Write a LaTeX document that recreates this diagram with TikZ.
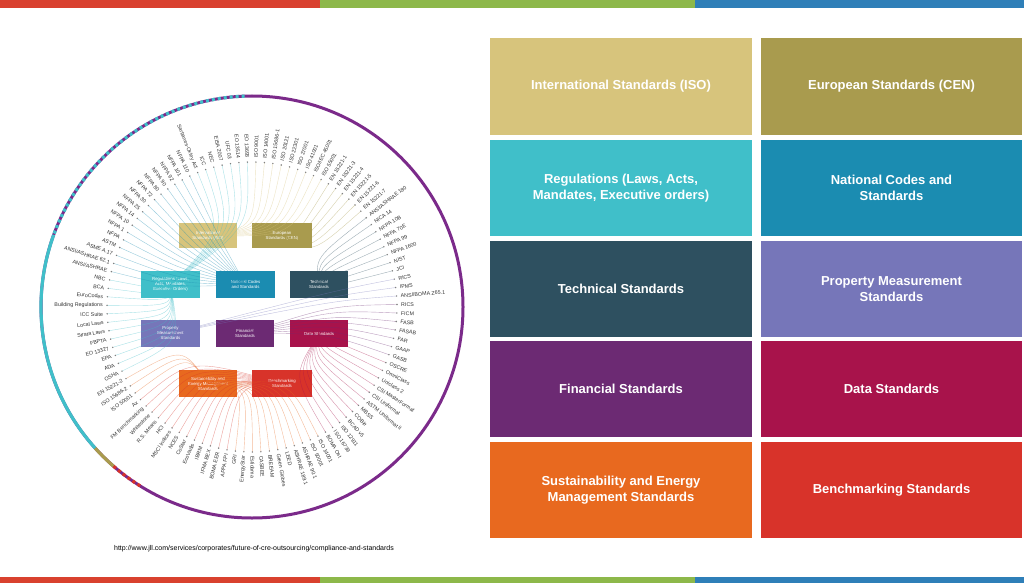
\documentclass[tikz,border=0pt]{standalone}
\usepackage{fontspec}
\setmainfont{Liberation Sans}
\usetikzlibrary{calc}
\definecolor{cISO}{HTML}{D7C47C}
\definecolor{cCEN}{HTML}{A99B4E}
\definecolor{cREG}{HTML}{40BFC9}
\definecolor{cNAT}{HTML}{1B8CB1}
\definecolor{cTEC}{HTML}{2E5060}
\definecolor{cPRO}{HTML}{7676B9}
\definecolor{cFIN}{HTML}{6C2A73}
\definecolor{cDAT}{HTML}{A8134B}
\definecolor{cSUS}{HTML}{E8691F}
\definecolor{cBEN}{HTML}{D8332A}
\definecolor{bR}{HTML}{D9412F}
\definecolor{bG}{HTML}{8DB84A}
\definecolor{bB}{HTML}{2F7FB8}
\definecolor{ring}{HTML}{7B2A8A}
\newcount\lblidx
\newcommand\grp[3]{%
 \foreach \lab in {#3}{%
  \pgfmathsetmacro\a{112-\the\lblidx*3.364}%
  \pgfmathtruncatemacro\rt{cos(\a)>0}%
  \coordinate (d\the\lblidx) at ($(C)+(\a:145)$);
  \ifnum\rt=1 \node[lbl,anchor=west,rotate=\a] at ($(C)+(\a:149)$) {\lab};%
  \else \node[lbl,anchor=east,rotate=\a+180] at ($(C)+(\a:149)$) {\lab};\fi
  \draw[#2,opacity=.45,line width=.4pt] (#1.center) .. controls ($(C)!.55!(d\the\lblidx)$) .. (d\the\lblidx);
  \fill[gray] (d\the\lblidx) circle (0.8);
  \global\advance\lblidx by 1
 }}
\begin{document}
\begin{tikzpicture}[x=1pt,y=1pt,
  lbl/.style={inner sep=0pt,font=\fontsize{5.3}{6}\selectfont,text=black!80},
  sb/.style={fill=#1,text=white,align=center,inner sep=1pt,font=\fontsize{4.3}{5}\selectfont},
  bb/.style={fill=#1,text=white,align=center,font=\bfseries\fontsize{13}{16}\selectfont}]
\useasboundingbox (0,0) rectangle (1024,-583);
\fill[white] (0,0) rectangle (1024,-583);
\fill[bR] (0,0) rectangle (320,-8); \fill[bG] (320,0) rectangle (695,-8); \fill[bB] (695,0) rectangle (1024,-8);
\fill[bR] (0,-577) rectangle (320,-583); \fill[bG] (320,-577) rectangle (695,-583); \fill[bB] (695,-577) rectangle (1024,-583);
\coordinate (C) at (252,-307);
% ring
\draw[ring,line width=3pt] (C) circle (211);
\draw[cREG,line width=3.2pt] ($(C)+(160:211)$) arc (160:222:211);
\draw[cREG,line width=3.2pt,dash pattern=on 3pt off 3pt] ($(C)+(92:211)$) arc (92:160:211);
\draw[cCEN,line width=3.2pt] ($(C)+(222:211)$) arc (222:229:211);
\draw[cBEN,line width=3.2pt,dash pattern=on 3pt off 3pt] ($(C)+(229:211)$) arc (229:238:211);
% small boxes
\node[sb=cISO,minimum width=58,minimum height=25] (iso) at (208,-235.5) {International\\Standards (ISO)};
\node[sb=cCEN,minimum width=60,minimum height=25] (cen) at (282,-235.5) {European\\Standards (CEN)};
\node[sb=cREG,minimum width=59,minimum height=27] (reg) at (170.5,-284.5) {Regulations (Laws,\\Acts, Mandates,\\Executive Orders)};
\node[sb=cNAT,minimum width=59,minimum height=27] (nat) at (245.5,-284.5) {National Codes\\and Standards};
\node[sb=cTEC,minimum width=58,minimum height=27] (tec) at (319,-284.5) {Technical\\Standards};
\node[sb=cPRO,minimum width=59,minimum height=27] (pro) at (170.5,-333.5) {Property\\Measurement\\Standards};
\node[sb=cFIN,minimum width=58,minimum height=27] (fin) at (245,-333.5) {Financial\\Standards};
\node[sb=cDAT,minimum width=58,minimum height=27] (dat) at (319,-333.5) {Data Standards};
\node[sb=cSUS,minimum width=58,minimum height=27] (sus) at (208,-383.5) {Sustainability and\\Energy Management\\Standards};
\node[sb=cBEN,minimum width=60,minimum height=27] (ben) at (282,-383.5) {Benchmarking\\Standards};
% labels
\grp{reg}{cREG}{Sarbanes-Oxley Act,ICC,NEC,EISA 2007,UFC 03,EO 13514,EO 13693}
\grp{iso}{cISO}{ISO 9001,ISO 14001,ISO 15686-1,ISO 20121,ISO 22301,ISO 27001,ISO 41001,ISO/IEC 45001,ISO 55001}
\grp{cen}{cCEN}{EN 15221-1,EN 15221-3,EN 15221-4,EN 15221-5,EN 15221-6,EN 15221-7}
\grp{tec}{cTEC}{ANSI/ASHRAE 180,NICA 14,NFPA 10B,NFPA 70E,NFPA 99,NFPA 1600,NIST,JCI}
\grp{pro}{cPRO}{RICS,IPMS,ANSI/BOMA Z65.1}
\grp{fin}{cFIN}{RICS,FICM,FASB,FASAB,FAR,GAAP,GASB}
\grp{dat}{cDAT}{OSCRE,OmniClass,Uniclass 2,CSI MasterFormat,CSI Uniformat,ASTM Uniformat II,MBSS,COBie,BCAD v5,ISO 12911,ISO 16739,BOMA Ost}
\grp{sus}{cSUS}{ISO 14001,ISO 50001,ASHRAE 90.1,ASHRAE 189.1,LEED,Green Globes,BREEAM,CASBEE,Estidama,EnergyStar,GRI}
\grp{ben}{cBEN}{APPA FPI,BOMA EER,IFMA BEX,IBRM,EcoVadis,CoStar,NCES,MSCI Indices,HCI,R.S. Means,Whitestone,FM Benchmarking,Ax}
\grp{sus}{cSUS}{ISO 50001,ISO 15686-2,EN 15221-2}
\grp{reg}{cREG}{OSHA,ADA,EPA,EO 13327,FBPTA,Strata Laws,Local Laws,ICC Suite,Building Regulations,EuroCodes,BCA,NBC}
\grp{nat}{cNAT}{ANSI/ASHRAE,ANSI/ASHRAE 62.1,ASME A.17,ASTM,NFPA,NFPA 1,NFPA 10,NFPA 14,NFPA 25,NFPA 30,NFPA 72,NFPA 80,NFPA 90,NFPA 92,NFPA 101,NFPA 110}
\node[font=\fontsize{7}{8}\selectfont] (url) at (254,-549) {http://www.jll.com/services/corporates/future-of-cre-outsourcing/compliance-and-standards};
% big boxes
\node[bb=cISO,minimum width=262,minimum height=97] (B1) at (621,-86.5) {International Standards (ISO)};
\node[bb=cCEN,minimum width=261,minimum height=97] (B2) at (891.5,-86.5) {European Standards (CEN)};
\node[bb=cREG,minimum width=262,minimum height=96] (B3) at (621,-188) {Regulations (Laws, Acts,\\Mandates, Executive orders)};
\node[bb=cNAT,minimum width=261,minimum height=96] (B4) at (891.5,-188) {National Codes and\\Standards};
\node[bb=cTEC,minimum width=262,minimum height=96] (B5) at (621,-289) {Technical Standards};
\node[bb=cPRO,minimum width=261,minimum height=96] (B6) at (891.5,-289) {Property Measurement\\Standards};
\node[bb=cFIN,minimum width=262,minimum height=96] (B7) at (621,-389) {Financial Standards};
\node[bb=cDAT,minimum width=261,minimum height=96] (B8) at (891.5,-389) {Data Standards};
\node[bb=cSUS,minimum width=262,minimum height=96] (B9) at (621,-490) {Sustainability and Energy\\Management Standards};
\node[bb=cBEN,minimum width=261,minimum height=96] (B10) at (891.5,-490) {Benchmarking Standards};
\end{tikzpicture}
\end{document}
